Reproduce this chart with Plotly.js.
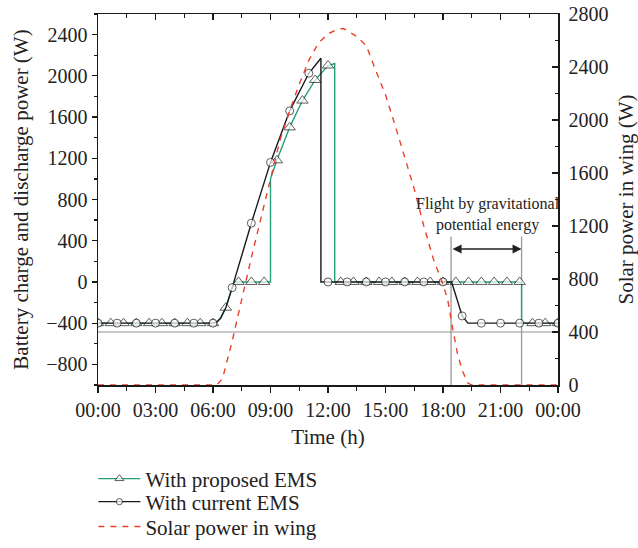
<!DOCTYPE html>
<html>
<head>
<meta charset="utf-8">
<script src="https://cdn.plot.ly/plotly-3.0.1.min.js"></script>
<style>html,body{margin:0;padding:0;background:#fff;}#chart{width:638px;height:548px;}</style>
</head>
<body>
<div id="chart"></div>
<script>
// ---- Data ----
// With proposed EMS (triangles); vertices with mark=0 have no marker
var propT = [0, 0.667, 1.333, 2, 2.667, 3.333, 4, 4.667, 5.333, 6, 6.2, 6.4, 6.667, 7.0, 7.15, 7.333, 8.0, 8.667, 9.0, 9.0, 9.333, 10.0, 10.667, 11.333, 12.0, 12.35, 12.35, 12.667, 13.333, 14, 14.667, 15.333, 16, 16.667, 17.333, 18, 18.667, 19.333, 20, 20.667, 21.333, 22.0, 22.1, 22.1, 22.667, 23.333, 24];
var propV = [-400, -400, -400, -400, -400, -400, -400, -400, -400, -400, -390, -350, -250, -60, 0, 0, 0, 0, 0, 1000, 1180, 1500, 1760, 1960, 2100, 2120, 0, 0, 0, 0, 0, 0, 0, 0, 0, 0, 0, 0, 0, 0, 0, 0, 0, -400, -400, -400, -400];
var propMark = [1, 1, 1, 1, 1, 1, 1, 1, 1, 1, 0, 0, 1, 0, 0, 1, 1, 1, 0, 0, 1, 1, 1, 1, 1, 0, 0, 1, 1, 1, 1, 1, 1, 1, 1, 1, 1, 1, 1, 1, 1, 1, 0, 0, 1, 1, 1];

// With current EMS (circles)
var curT = [0, 1, 2, 3, 4, 5, 6, 6.2, 6.4, 6.667, 7, 8, 9, 10, 11, 11.63, 11.63, 12, 13, 14, 15, 16, 17, 18, 18.45, 19, 19.3, 20, 21, 22, 23, 24];
var curV = [-400, -400, -400, -400, -400, -400, -400, -390, -350, -250, -55, 570, 1160, 1660, 2025, 2170, 0, 0, 0, 0, 0, 0, 0, 0, 0, -330, -400, -400, -400, -400, -400, -400];
var curMark = [1, 1, 1, 1, 1, 1, 1, 0, 0, 0, 1, 1, 1, 1, 1, 0, 0, 1, 1, 1, 1, 1, 1, 1, 0, 1, 0, 1, 1, 1, 1, 1];

// Solar power in wing (right axis)
var solarT = [0, 6.2, 6.5, 6.75, 7.0, 7.25, 7.5, 7.75, 8.0, 8.25, 8.5, 9.0, 9.5, 10.0, 10.5, 11.0, 11.5, 12.0, 12.5, 12.8, 13.0, 13.5, 14.0, 14.5, 15.0, 15.5, 16.0, 16.5, 17.0, 17.5, 18.0, 18.25, 18.5, 18.75, 19.0, 19.3, 19.5, 24];
var solarV = [0, 0, 50, 180, 330, 490, 655, 815, 960, 1110, 1260, 1570, 1850, 2070, 2270, 2450, 2580, 2650, 2685, 2690, 2675, 2630, 2560, 2370, 2190, 1960, 1720, 1480, 1200, 950, 760, 640, 430, 240, 110, 15, 0, 0];

var tickVals = [0, 3, 6, 9, 12, 15, 18, 21, 24];
var tickText = ['00:00', '03:00', '06:00', '09:00', '12:00', '15:00', '18:00', '21:00', '00:00'];

var flightStart = 18.42, flightEnd = 22.1;

// ---- Styling ----
var FONT = 'Liberation Serif, Times New Roman, serif';
var GREEN = '#24a07a', BLACK = '#1a1a1a', RED = '#e8402a', GRAY = '#b4b4b4';
var TXT = '#222';

function sizes(m, s) { return m.map(function (v) { return v ? s : 0; }); }

var traces = [
  {
    x: propT, y: propV, name: 'With proposed EMS', type: 'scatter', mode: 'lines+markers', legend: 'legend',
    line: {color: GREEN, width: 1.4},
    marker: {symbol: 'triangle-up', size: sizes(propMark, 10), color: '#fff', line: {color: BLACK, width: 1}},
    xaxis: 'x', yaxis: 'y'
  },
  {
    x: curT, y: curV, name: 'With current EMS', type: 'scatter', mode: 'lines+markers', legend: 'legend2',
    line: {color: BLACK, width: 1.4},
    marker: {symbol: 'circle', size: sizes(curMark, 8), color: '#fff', line: {color: BLACK, width: 1}},
    xaxis: 'x', yaxis: 'y'
  },
  {
    x: solarT, y: solarV, name: 'Solar power in wing', type: 'scatter', mode: 'lines', legend: 'legend3',
    line: {color: RED, width: 1.4, dash: '6px,6px'},
    xaxis: 'x2', yaxis: 'y2'
  }
];

function leg(y) {
  return {x: -0.01, y: y, xanchor: 'left', yanchor: 'top', font: {family: FONT, size: 21, color: TXT},
          bgcolor: 'rgba(0,0,0,0)', itemwidth: 42};
}

var layout = {
  width: 638, height: 548,
  margin: {l: 98, r: 80, t: 14, b: 163, autoexpand: false},
  paper_bgcolor: '#fff', plot_bgcolor: '#fff',
  font: {family: FONT, size: 20, color: TXT},
  showlegend: true,
  legend: leg(-0.198),
  legend2: leg(-0.260),
  legend3: leg(-0.327),
  xaxis: {
    range: [0, 24], tickmode: 'array', tickvals: tickVals, ticktext: tickText,
    ticks: 'outside', ticklen: 6, tickwidth: 1.3, tickcolor: BLACK,
    showline: true, linecolor: BLACK, linewidth: 1.5, mirror: true,
    showgrid: false, zeroline: false,
    minor: {tickmode: 'linear', tick0: 0, dtick: 1.5, ticks: 'outside', ticklen: 4, tickcolor: BLACK, showgrid: false},
    title: {text: 'Time (h)', font: {family: FONT, size: 21, color: TXT}, standoff: 10},
    tickfont: {family: FONT, size: 20, color: TXT}
  },
  xaxis2: {
    matches: 'x', overlaying: 'x', side: 'top', anchor: 'y',
    tickmode: 'array', tickvals: tickVals, showticklabels: false,
    ticks: 'inside', ticklen: 6, tickwidth: 1.3, tickcolor: BLACK,
    minor: {tickmode: 'linear', tick0: 0, dtick: 1.5, ticks: 'inside', ticklen: 4, tickcolor: BLACK, showgrid: false},
    showline: false, showgrid: false, zeroline: false
  },
  yaxis: {
    range: [-1000, 2600], tickmode: 'linear', tick0: 0, dtick: 400,
    ticks: 'outside', ticklen: 5, tickwidth: 1.3, tickcolor: BLACK,
    minor: {tickmode: 'linear', tick0: 0, dtick: 200, ticks: 'outside', ticklen: 3, tickcolor: BLACK, showgrid: false},
    showline: true, linecolor: BLACK, linewidth: 1.5, showgrid: false, zeroline: false,
    title: {text: 'Battery charge and discharge power (W)', font: {family: FONT, size: 21, color: TXT}, standoff: 12},
    tickfont: {family: FONT, size: 20, color: TXT}
  },
  yaxis2: {
    overlaying: 'y', side: 'right', anchor: 'x2',
    range: [0, 2800], tickmode: 'linear', tick0: 0, dtick: 400,
    ticks: 'inside', ticklen: 6, tickwidth: 1.3, tickcolor: BLACK, ticklabelstandoff: 5,
    minor: {tickmode: 'linear', tick0: 0, dtick: 200, ticks: 'inside', ticklen: 3, tickcolor: BLACK, showgrid: false},
    showline: true, linecolor: BLACK, linewidth: 1.5, showgrid: false, zeroline: false,
    title: {text: 'Solar power in wing (W)', font: {family: FONT, size: 21, color: TXT}, standoff: 11},
    tickfont: {family: FONT, size: 20, color: TXT}
  },
  shapes: [
    {type: 'line', xref: 'x', yref: 'y2', x0: 0, x1: 24, y0: 400, y1: 400, line: {color: GRAY, width: 1.5}, layer: 'below'},
    {type: 'line', xref: 'x', yref: 'y2', x0: flightStart, x1: flightStart, y0: 0, y1: 1120, line: {color: '#999', width: 1.3}, layer: 'below'},
    {type: 'line', xref: 'x', yref: 'y2', x0: flightEnd, x1: flightEnd, y0: 0, y1: 1120, line: {color: '#999', width: 1.3}, layer: 'below'}
  ],
  annotations: [
    {xref: 'x', yref: 'y2', x: 20.35, y: 1285, text: 'Flight by gravitational<br>potential energy', showarrow: false,
     font: {family: FONT, size: 16, color: TXT}, xanchor: 'center', yanchor: 'middle'},
    {xref: 'x', yref: 'y2', axref: 'x', ayref: 'y2', x: flightEnd, y: 1026, ax: flightStart, ay: 1026, text: '',
     showarrow: true, arrowside: 'end+start', arrowhead: 2, startarrowhead: 2, arrowsize: 1.2, startarrowsize: 1.2,
     arrowwidth: 1.5, arrowcolor: TXT}
  ]
};

Plotly.newPlot('chart', traces, layout, {displayModeBar: false, staticPlot: true});
</script>
</body>
</html>
